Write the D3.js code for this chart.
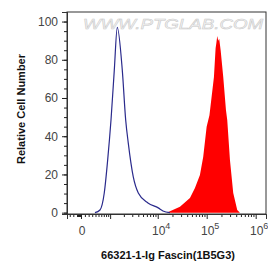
<!DOCTYPE html>
<html>
<head>
<meta charset="utf-8">
<script src="https://cdn.jsdelivr.net/npm/d3@7"></script>
<style>
	body { margin: 0; background: #fff; }
	svg { display: block; font-family: "Liberation Sans", Arial, sans-serif; }
</style>
</head>
<body>
<script>
// intensity values (fluorescence) and counts
var isoX = [383, 552, 720, 874, 1047, 1243, 1446, 1853, 2187, 2479, 3150, 3998, 6310, 10260, 12800, 17780];
var isoY = [0, 1.4, 10.3, 27.5, 48.5, 74.6, 97, 74.6, 48.5, 36.4, 18.7, 10.3, 5.1, 2.5, 0.9, 0];

var fasX = [15230, 28450, 45500, 57560, 72770, 84980, 99750, 113800, 140600, 152000, 158000, 164200, 172000, 180000, 192700, 217700, 247200, 262700, 298300, 348200, 420300, 477300];
var fasY = [0, 3.1, 7.7, 12.9, 19.7, 29.3, 45, 51, 71, 86, 89, 92.4, 90, 91, 85, 71, 53.7, 48.5, 27.5, 10.3, 1.4, 0];

var yMajor = [0, 20, 40, 60, 80, 100];
var yMinor = d3.range(0, 101, 5);
var xMajor = [0, 1e3, 1e4, 1e5, 1e6];
var xLabels = [{v: 0, txt: "0"}, {v: 1e4, txt: "10", sup: "4"}, {v: 1e5, txt: "10", sup: "5"}, {v: 1e6, txt: "10", sup: "6"}];
var xMinor = [-300, -200, -100, -90, -80, -70, -60, -50, -40, -30, -20, -10,
	100, 200, 300, 400, 500, 600, 700, 800, 900,
	2e3, 3e3, 4e3, 5e3, 6e3, 7e3, 8e3, 9e3,
	2e4, 3e4, 4e4, 5e4, 6e4, 7e4, 8e4, 9e4,
	2e5, 3e5, 4e5, 5e5, 6e5, 7e5, 8e5, 9e5];

var width = 268;
var height = 262;
var plotL = 67, plotR = 266, plotT = 12, plotB = 214;

// biexponential-like display: asinh transform then linear
var cof = 543;
function tf(v) { return Math.asinh(v / cof); }

var xLin = d3.scaleLinear()
				.domain([tf(-383), tf(1.624e6)])
				.range([plotL, plotR]);
function x(v) { return xLin(tf(v)); }

var y = d3.scaleLinear()
			.domain([-0.7, 105])
			.range([plotB, plotT]);

var svg = d3.select("body")
			.append("svg")
			.attr("width", width)
			.attr("height", height);

// watermark
svg.append("text")
	.attr("x", 83)
	.attr("y", 29)
	.attr("textLength", 180)
	.attr("lengthAdjust", "spacingAndGlyphs")
	.style("font-size", "15px")
	.style("font-style", "italic")
	.style("fill", "#f4f4f4")
	.style("stroke", "#c8c8c8")
	.style("stroke-width", 0.5)
	.text("WWW.PTGLAB.COM");

var fasData = fasX.map(function(d, i) { return [d, fasY[i]]; });
var isoData = isoX.map(function(d, i) { return [d, isoY[i]]; });

var area = d3.area()
			.x(function(d) { return x(d[0]); })
			.y0(y(0))
			.y1(function(d) { return y(d[1]); });

svg.append("path")
	.datum(fasData)
	.attr("d", area)
	.style("fill", "#ff0000");

var line = d3.line()
			.x(function(d) { return x(d[0]); })
			.y(function(d) { return y(d[1]); })
			.curve(d3.curveMonotoneX);

svg.append("path")
	.datum(isoData)
	.attr("d", line)
	.style("fill", "none")
	.style("stroke", "#2a2a8c")
	.style("stroke-width", 1.2);

// frame
svg.append("rect")
	.attr("x", plotL)
	.attr("y", plotT)
	.attr("width", plotR - plotL)
	.attr("height", plotB - plotT)
	.style("fill", "none")
	.style("stroke", "#333")
	.style("stroke-width", 1);

// y axis
var yMinorAxis = svg.append("g")
					.attr("transform", "translate(" + plotL + ",0)")
					.call(d3.axisLeft(y).tickValues(yMinor).tickSize(3).tickFormat(""));
var yAxis = svg.append("g")
				.attr("transform", "translate(" + plotL + ",0)")
				.call(d3.axisLeft(y).tickValues(yMajor).tickSize(5).tickPadding(4));
yAxis.selectAll("text")
	.style("font-size", "12px")
	.style("fill", "#444")
	.style("font-family", "'Liberation Sans', Arial, sans-serif");

// x axis
var xMinorAxis = svg.append("g")
					.attr("transform", "translate(0," + plotB + ")")
					.call(d3.axisBottom(xLin).tickValues(xMinor.map(tf)).tickSize(3).tickFormat(""));
var xAxis = svg.append("g")
				.attr("transform", "translate(0," + plotB + ")")
				.call(d3.axisBottom(xLin).tickValues(xMajor.map(tf)).tickSize(5).tickFormat(""));
svg.selectAll(".domain").style("stroke", "#333");
svg.selectAll(".tick line").style("stroke", "#222");

var lab = svg.append("g")
			.selectAll("g")
			.data(xLabels)
			.enter()
			.append("g")
			.attr("transform", function(d) { return "translate(" + (x(d.v) + 1) + "," + (plotB + 21) + ")"; });
lab.append("text")
	.attr("text-anchor", "middle")
	.style("font-size", "12px")
	.style("fill", "#444")
	.text(function(d) { return d.txt; });
lab.append("text")
	.attr("x", 6.5)
	.attr("y", -6)
	.style("font-size", "9px")
	.style("fill", "#444")
	.text(function(d) { return d.sup || ""; });

// titles
svg.append("text")
	.attr("x", 168)
	.attr("y", 259)
	.attr("text-anchor", "middle")
	.style("font-size", "11px")
	.style("font-weight", "bold")
	.style("fill", "#111")
	.text("66321-1-Ig Fascin(1B5G3)");

svg.append("text")
	.attr("transform", "translate(25,109) rotate(-90)")
	.attr("text-anchor", "middle")
	.style("font-size", "11px")
	.style("font-weight", "bold")
	.style("fill", "#111")
	.text("Relative Cell Number");
</script>
</body>
</html>
